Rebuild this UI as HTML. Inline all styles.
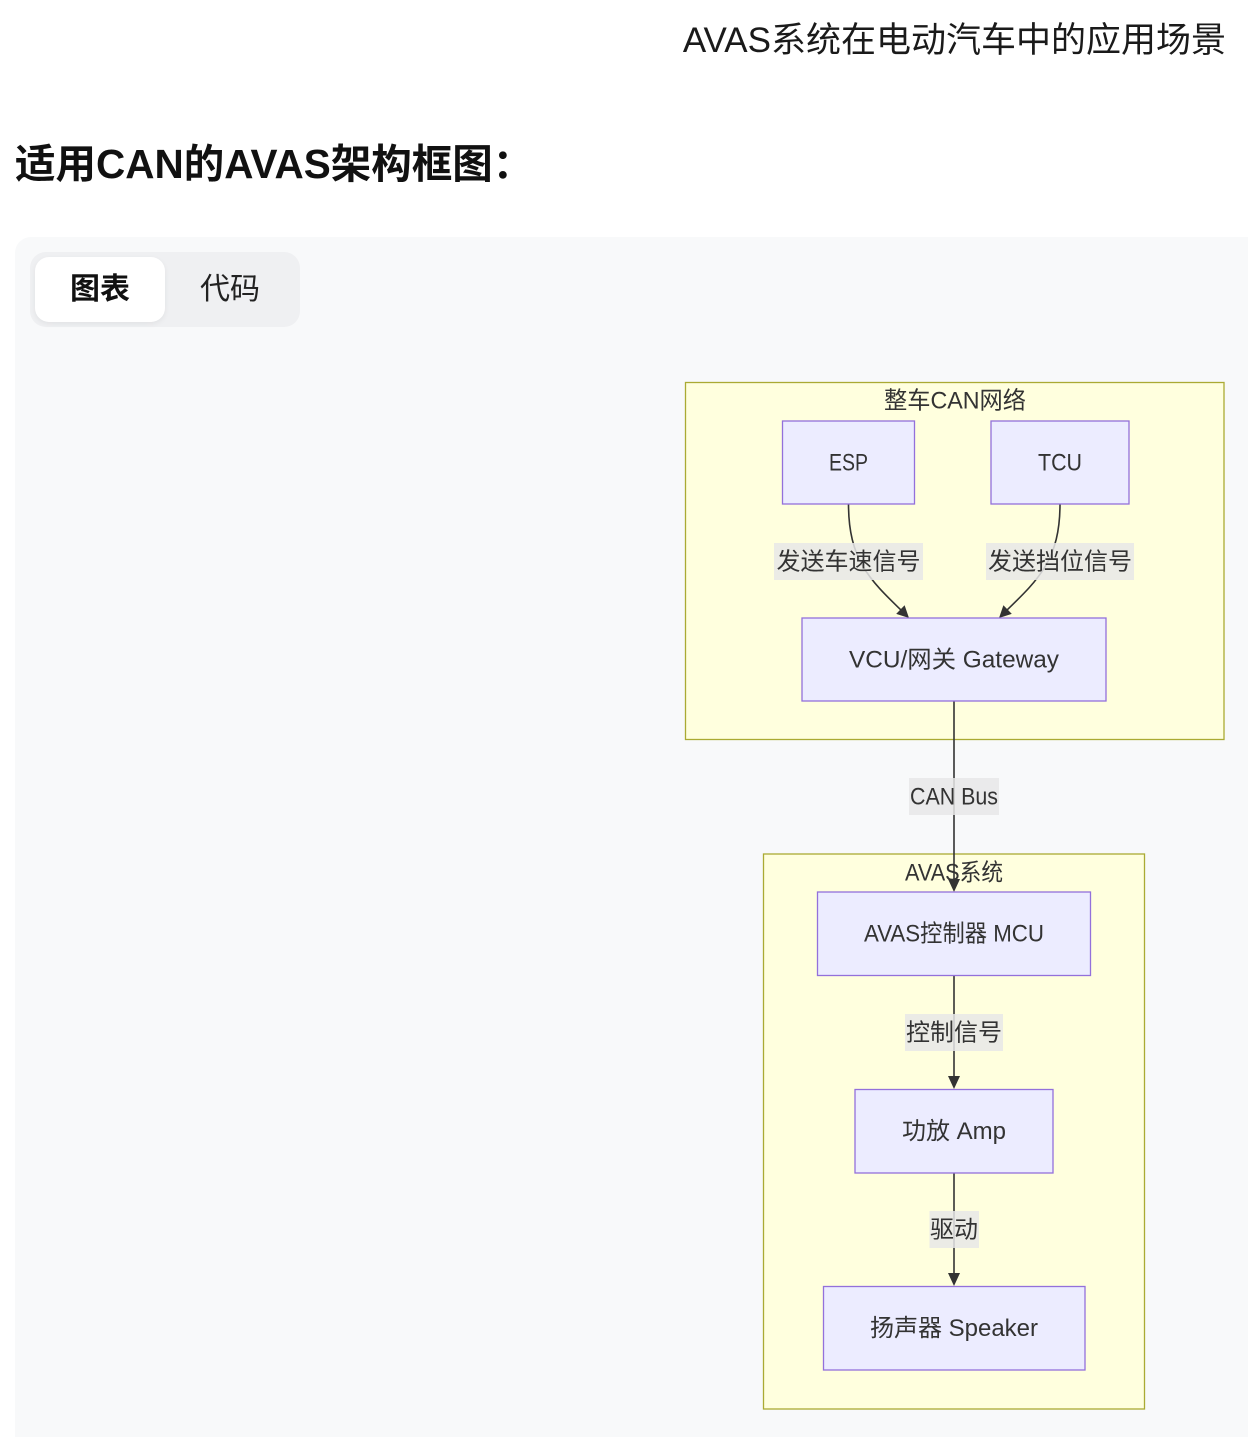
<!DOCTYPE html>
<html>
<head>
<meta charset="utf-8">
<style>
  html,body{margin:0;padding:0;background:#ffffff;}
  body{width:1248px;height:1418px;position:relative;overflow:hidden;
       font-family:"Liberation Sans","Noto Sans CJK SC",sans-serif;}
  .title{position:absolute;right:22px;top:22px;font-size:35px;line-height:38px;color:#1a1a1a;white-space:nowrap;}
  .h2{position:absolute;left:15px;top:143px;font-size:40.5px;line-height:42px;font-weight:bold;color:#111;white-space:nowrap;}
  .panel{position:absolute;left:15px;top:237px;width:1260px;height:1200px;background:#f8f9fa;border-radius:16px 0 0 0;}
  .tabs{position:absolute;left:30px;top:252px;width:270px;height:75px;background:#eff0f2;border-radius:16px;}
  .tab-active{position:absolute;left:35px;top:257px;width:130px;height:65px;background:#fff;border-radius:14px;
       box-shadow:0 2px 6px rgba(0,0,0,0.06);}
  .t1{position:absolute;left:35px;top:257px;width:130px;height:65px;line-height:65px;text-align:center;font-size:30px;font-weight:bold;color:#111;}
  .t2{position:absolute;left:165px;top:257px;width:130px;height:65px;line-height:65px;text-align:center;font-size:30px;color:#222;}
  svg{position:absolute;left:0;top:0;}
  svg text{font-family:"Liberation Sans","Noto Sans CJK SC",sans-serif;font-size:24px;fill:#333;}
</style>
</head>
<body>
<div class="title">AVAS系统在电动汽车中的应用场景</div>
<div class="h2">适用CAN的AVAS架构框图：</div>
<div class="panel"></div>
<div class="tabs"></div>
<div class="tab-active"></div>
<div class="t1">图表</div>
<div class="t2">代码</div>

<svg width="1248" height="1418" viewBox="0 0 1248 1418">
  <!-- clusters -->
  <rect x="685.5" y="382.5" width="538.5" height="357" fill="#ffffde" stroke="#aaaa33" stroke-width="1.3"/>
  <text x="955" y="401" text-anchor="middle" dominant-baseline="central" textLength="142" lengthAdjust="spacingAndGlyphs">整车CAN网络</text>

  <rect x="763.5" y="854" width="381" height="555" fill="#ffffde" stroke="#aaaa33" stroke-width="1.3"/>
  <text x="954" y="873" text-anchor="middle" dominant-baseline="central" textLength="98" lengthAdjust="spacingAndGlyphs">AVAS系统</text>

  <!-- edges -->
  <g fill="none" stroke="#333" stroke-width="1.6">
    <path d="M848.5,504 C848.5,560 870,580 903,612"/>
    <path d="M1060,504 C1060,560 1038,580 1005,612"/>
    <path d="M954,701 L954,884"/>
    <path d="M954,976 L954,1081"/>
    <path d="M954,1173 L954,1278"/>
  </g>
  <!-- arrowheads -->
  <g fill="#333">
    <polygon points="909,618 904.6,605.3 896.2,613.9"/>
    <polygon points="999,618 1003.4,605.3 1011.8,613.9"/>
    <polygon points="954,892 948,879 960,879"/>
    <polygon points="954,1089 948,1076 960,1076"/>
    <polygon points="954,1286 948,1273 960,1273"/>
  </g>

  <!-- nodes -->
  <g fill="#ececff" stroke="#9370db" stroke-width="1.3">
    <rect x="782.5" y="421" width="132" height="83"/>
    <rect x="991" y="421" width="138" height="83"/>
    <rect x="802" y="618" width="304" height="83"/>
    <rect x="817.5" y="892" width="273" height="83.5"/>
    <rect x="855" y="1089.5" width="198" height="83.5"/>
    <rect x="823.5" y="1286.5" width="261.5" height="83.5"/>
  </g>
  <text x="848.5" y="463" text-anchor="middle" dominant-baseline="central" textLength="39" lengthAdjust="spacingAndGlyphs">ESP</text>
  <text x="1060" y="463" text-anchor="middle" dominant-baseline="central" textLength="44" lengthAdjust="spacingAndGlyphs">TCU</text>
  <text x="954" y="660" text-anchor="middle" dominant-baseline="central" textLength="210" lengthAdjust="spacingAndGlyphs">VCU/网关 Gateway</text>
  <text x="954" y="934" text-anchor="middle" dominant-baseline="central" textLength="180" lengthAdjust="spacingAndGlyphs">AVAS控制器 MCU</text>
  <text x="954" y="1131.5" text-anchor="middle" dominant-baseline="central">功放 Amp</text>
  <text x="954" y="1328.5" text-anchor="middle" dominant-baseline="central">扬声器 Speaker</text>

  <!-- edge labels -->
  <g fill="#e8e8e8" fill-opacity="0.85">
    <rect x="774" y="543" width="149" height="37"/>
    <rect x="986" y="543" width="148" height="37"/>
    <rect x="909" y="778" width="90" height="37"/>
    <rect x="905" y="1014" width="98" height="37"/>
    <rect x="929.5" y="1211" width="49.5" height="37"/>
  </g>
  <text x="848.5" y="562" text-anchor="middle" dominant-baseline="central">发送车速信号</text>
  <text x="1060" y="562" text-anchor="middle" dominant-baseline="central">发送挡位信号</text>
  <text x="954" y="797" text-anchor="middle" dominant-baseline="central" textLength="88" lengthAdjust="spacingAndGlyphs">CAN Bus</text>
  <text x="954" y="1033" text-anchor="middle" dominant-baseline="central">控制信号</text>
  <text x="954" y="1230" text-anchor="middle" dominant-baseline="central">驱动</text>
</svg>
</body>
</html>
